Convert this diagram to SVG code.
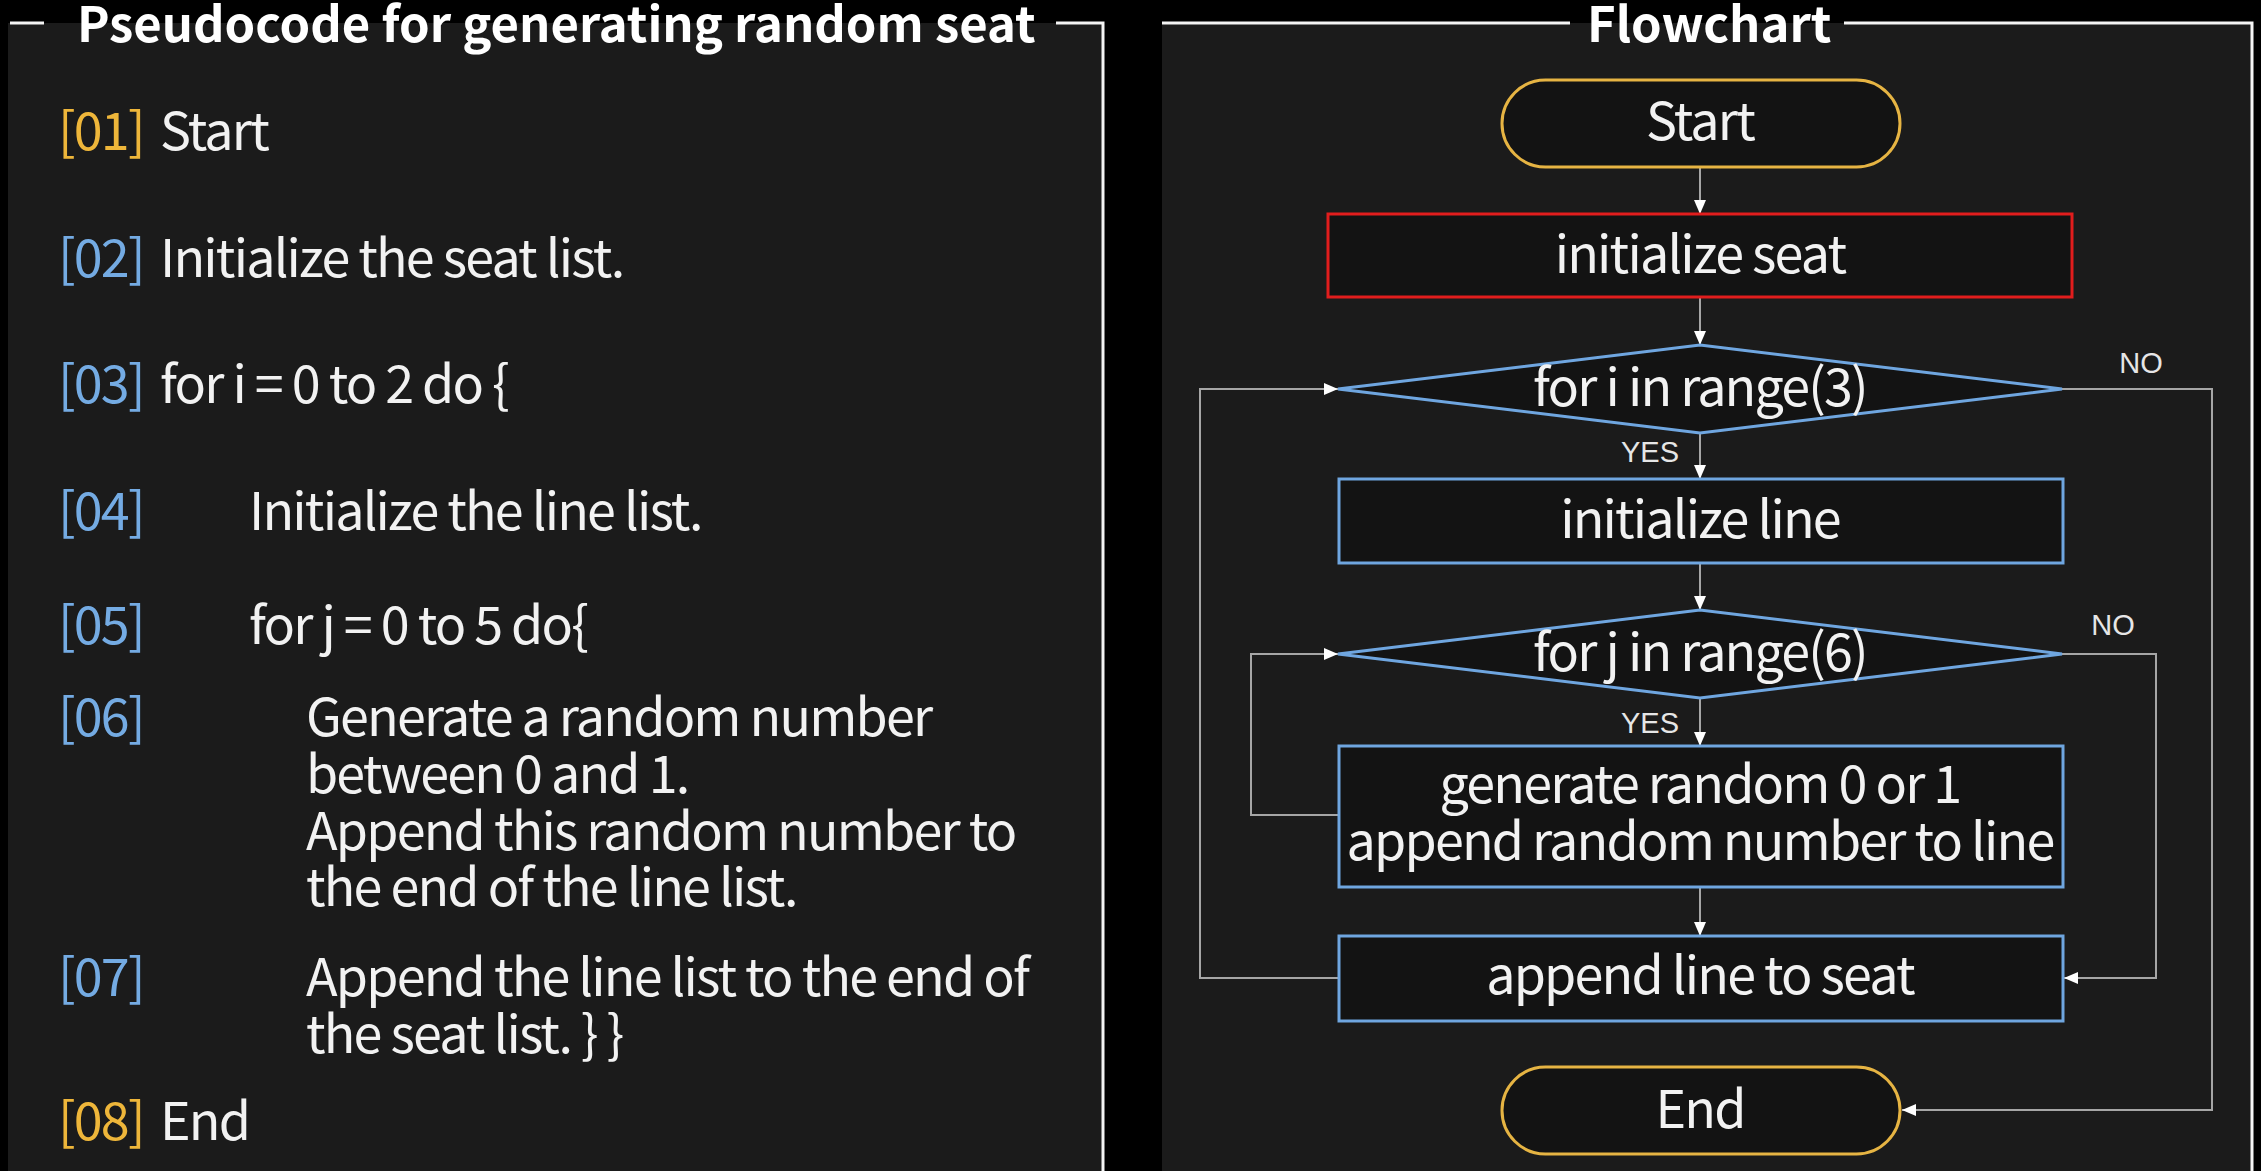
<svg xmlns="http://www.w3.org/2000/svg" width="2261" height="1171" viewBox="0 0 2261 1171">
<style>
.t{font-family:"Noto Sans CJK JP","Noto Sans",sans-serif;fill:#f2f2f2;font-size:52px;letter-spacing:-1.8px}
.title{font-family:"Noto Sans CJK JP","Noto Sans",sans-serif;fill:#ffffff;font-weight:bold;font-size:49px}
.c{text-anchor:middle}
.gold{fill:#eeb63a}
.blue{fill:#74abe3}
.lbl{font-family:"Liberation Sans",Arial,sans-serif;fill:#e6e6e6;font-size:29px}
.frame{fill:none;stroke:#f4f4f4;stroke-width:3}
.term{fill:#131313;stroke:#e6b443;stroke-width:3}
.proc{fill:#131313;stroke:#6fa6e0;stroke-width:3}
.red{fill:#131313;stroke:#e11d1d;stroke-width:3}
.conn{fill:none;stroke:#a6a6a6;stroke-width:2}
</style>
<defs>
<marker id="ah" markerUnits="userSpaceOnUse" markerWidth="14" markerHeight="12" refX="14" refY="6" orient="auto" viewBox="0 0 14 12">
<path d="M0,0 L14,6 L0,12 z" fill="#ffffff"/>
</marker>
</defs>
<rect x="0" y="0" width="2261" height="1171" fill="#000000"/>
<rect x="8" y="23" width="1095" height="1148" fill="#1b1b1b"/>
<rect x="1162" y="23" width="1090" height="1148" fill="#1b1b1b"/>
<g id="frame-left">
<path class="frame" d="M10,23 H44 M1056,23 H1103 V1171"/>
<text class="title" x="77" y="42">Pseudocode for generating random seat</text>
</g>
<g id="frame-right">
<path class="frame" d="M1162,23 H1570 M1844,23 H2252 V1171"/>
<text class="title" x="1587" y="42">Flowchart</text>
</g>
<g id="pseudocode">
<text class="t" y="150"><tspan class="gold" x="58">[01]</tspan><tspan x="160">Start</tspan></text>
<text class="t" y="277"><tspan class="blue" x="58">[02]</tspan><tspan x="160">Initialize the seat list.</tspan></text>
<text class="t" y="403"><tspan class="blue" x="58">[03]</tspan><tspan x="160">for i = 0 to 2 do {</tspan></text>
<text class="t" y="530"><tspan class="blue" x="58">[04]</tspan><tspan x="249">Initialize the line list.</tspan></text>
<text class="t" y="644"><tspan class="blue" x="58">[05]</tspan><tspan x="249">for j = 0 to 5 do{</tspan></text>
<text class="t" y="736"><tspan class="blue" x="58">[06]</tspan><tspan x="306">Generate a random number</tspan></text>
<text class="t" x="306" y="793">between 0 and 1.</text>
<text class="t" x="306" y="850">Append this random number to</text>
<text class="t" x="306" y="906">the end of the line list.</text>
<text class="t" y="996"><tspan class="blue" x="58">[07]</tspan><tspan x="306">Append the line list to the end of</tspan></text>
<text class="t" x="306" y="1053">the seat list. } }</text>
<text class="t" y="1140"><tspan class="gold" x="58">[08]</tspan><tspan x="160">End</tspan></text>
</g>
<g id="connectors">
<path class="conn" marker-end="url(#ah)" d="M1700,167 V214"/>
<path class="conn" marker-end="url(#ah)" d="M1700,297 V345"/>
<path class="conn" marker-end="url(#ah)" d="M1700,433 V479"/>
<path class="conn" marker-end="url(#ah)" d="M1700,563 V610"/>
<path class="conn" marker-end="url(#ah)" d="M1700,698 V746"/>
<path class="conn" marker-end="url(#ah)" d="M1700,887 V936"/>
<path class="conn" marker-end="url(#ah)" d="M1339,815 H1251 V654 H1338"/>
<path class="conn" marker-end="url(#ah)" d="M1339,978 H1200 V389 H1338"/>
<path class="conn" marker-end="url(#ah)" d="M2062,654 H2156 V978 H2064"/>
<path class="conn" marker-end="url(#ah)" d="M2062,389 H2212 V1110 H1902"/>
<text class="lbl" x="1679" y="462" text-anchor="end">YES</text>
<text class="lbl" x="1679" y="733" text-anchor="end">YES</text>
<text class="lbl" x="2141" y="373" text-anchor="middle">NO</text>
<text class="lbl" x="2113" y="635" text-anchor="middle">NO</text>
</g>
<g id="start">
<rect class="term" x="1502" y="80" width="398" height="87" rx="43.5"/>
<text class="t c" x="1700" y="140">Start</text>
</g>
<g id="init-seat">
<rect class="red" x="1328" y="214" width="744" height="83"/>
<text class="t c" x="1700" y="273">initialize seat</text>
</g>
<g id="loop-i">
<polygon class="proc" points="1338,389 1700,345 2062,389 1700,433"/>
<text class="t c" x="1700" y="406">for i in range(3)</text>
</g>
<g id="init-line">
<rect class="proc" x="1339" y="479" width="724" height="84"/>
<text class="t c" x="1700" y="538">initialize line</text>
</g>
<g id="loop-j">
<polygon class="proc" points="1338,654 1700,610 2062,654 1700,698"/>
<text class="t c" x="1700" y="671">for j in range(6)</text>
</g>
<g id="generate">
<rect class="proc" x="1339" y="746" width="724" height="141"/>
<text class="t c" x="1700" y="803">generate random 0 or 1</text>
<text class="t c" x="1700" y="860">append random number to line</text>
</g>
<g id="append">
<rect class="proc" x="1339" y="936" width="724" height="85"/>
<text class="t c" x="1700" y="994">append line to seat</text>
</g>
<g id="end">
<rect class="term" x="1502" y="1067" width="398" height="87" rx="43.5"/>
<text class="t c" x="1700" y="1128">End</text>
</g>
</svg>
